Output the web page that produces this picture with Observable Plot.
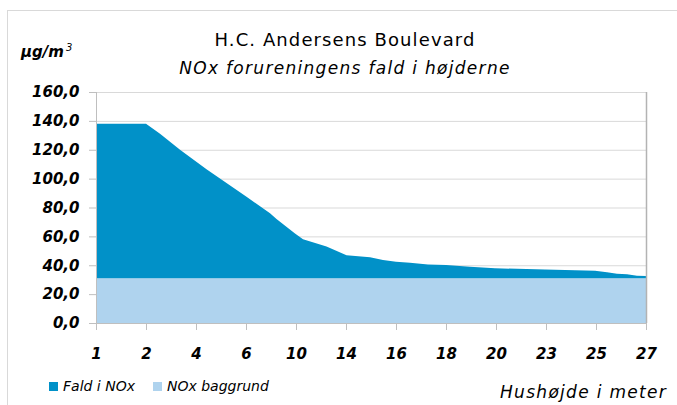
<!DOCTYPE html>
<html><head><meta charset="utf-8">
<script src="https://cdn.jsdelivr.net/npm/d3@7"></script>
<script src="https://cdn.jsdelivr.net/npm/@observablehq/plot@0.6"></script>
<style>
body{margin:0;background:#fff;}
#wrap{position:relative;width:677px;height:405px;overflow:hidden;font-family:"DejaVu Sans",sans-serif;color:#000;}
#frame{position:absolute;left:7px;top:10px;width:720px;height:440px;border:1px solid #d9d9d9;}
#title{position:absolute;left:0;width:690px;top:30px;text-align:center;font-size:18px;line-height:20px;letter-spacing:1.1px;}
#subtitle{position:absolute;left:0;width:690px;top:58px;text-align:center;font-size:17px;font-style:italic;line-height:20px;letter-spacing:1.3px;}
#unit{position:absolute;left:21px;top:38px;font-size:15px;font-weight:bold;font-style:italic;line-height:20px;}
#unit sup{font-size:10px;font-weight:normal;vertical-align:6px;margin-left:2px;}
#chart{position:absolute;left:0;top:70px;}
.leg{position:absolute;top:377px;font-size:14px;font-style:italic;line-height:18px;display:flex;align-items:center;}
.sw{display:inline-block;width:9px;height:9px;margin-right:5px;}
#xtitle{position:absolute;left:500px;top:383px;font-size:17px;font-style:italic;line-height:18px;white-space:nowrap;letter-spacing:1.3px;}
</style></head>
<body><div id="wrap">
<div id="frame"></div>
<div id="unit">µg/m<sup>3</sup></div>
<div id="title">H.C. Andersens Boulevard</div>
<div id="subtitle">NOx forureningens fald i højderne</div>
<div id="chart"></div>
<div class="leg" style="left:49px"><span class="sw" style="background:#0191c8"></span>Fald i NOx</div>
<div class="leg" style="left:153px"><span class="sw" style="background:#afd3ee"></span>NOx baggrund</div>
<div id="xtitle">Hushøjde i meter</div>
</div>
<script>
const xLabels = ["1","2","4","6","10","14","16","18","20","23","25","27"];
const seriesNames = ["NOx baggrund","Fald i NOx"];
const seriesColors = ["#afd3ee","#0191c8"];
const yTicks = [0,20,40,60,80,100,120,140,160];
const pos = [0,1,1.28,1.68,2.21,2.61,3.01,3.48,3.61,3.98,4.14,4.61,5.01,5.48,5.74,6,6.28,6.64,7,7.48,7.98,8.98,9.98,10.22,10.42,10.62,10.82,11];
const baggrund = [31,31,31,31,31,31,31,31,31,31,31,31,31,31,31,31,31,31,31,31,31,31,31,31,31,31,31,31];
const fald = [107,107,100,89,75.5,66,56.5,45,41,31,27,22,16,14.5,12.6,11.4,10.7,9.6,9.2,8,6.9,6.1,5.2,4.1,3.1,2.7,1.7,1.5];

const rows = [];
pos.forEach((p,i)=>rows.push({pos:p, value:baggrund[i], series:seriesNames[0]}));
pos.forEach((p,i)=>rows.push({pos:p, value:fald[i], series:seriesNames[1]}));

const fmt = d => d.toFixed(1).replace(".", ",");

const chart = Plot.plot({
  width: 677,
  height: 300,
  marginTop: 22,
  marginBottom: 47,
  marginLeft: 96,
  marginRight: 31,
  style: {fontFamily: "DejaVu Sans", fontSize: "15px", fontWeight: "bold", fontStyle: "italic", background: "transparent", color: "#000"},
  x: {domain: [0, 11]},
  y: {domain: [0, 160]},
  color: {domain: seriesNames, range: seriesColors},
  marks: [
    Plot.gridY(yTicks, {stroke: "#d9d9d9", strokeOpacity: 1}),
    Plot.areaY(rows, {x: "pos", y: "value", fill: "series", z: "series", curve: "linear"}),
    Plot.ruleX([11], {stroke: "#b3b3b3", strokeWidth: 1.5, y1: 0, y2: 160}),
    Plot.axisY(yTicks, {tickSize: 7, tickPadding: 10, tickFormat: fmt, stroke: "#bfbfbf", fill: "#000", label: null}),
    Plot.axisX(d3.range(12), {tickSize: 7, tickPadding: 18, tickFormat: i => xLabels[i], stroke: "#bfbfbf", fill: "#000", label: null}),
    Plot.ruleX([0], {stroke: "#bfbfbf", y1: 0, y2: 160}),
    Plot.ruleY([0], {stroke: "#bfbfbf"})
  ]
});
document.getElementById("chart").appendChild(chart);
</script>
</body></html>
